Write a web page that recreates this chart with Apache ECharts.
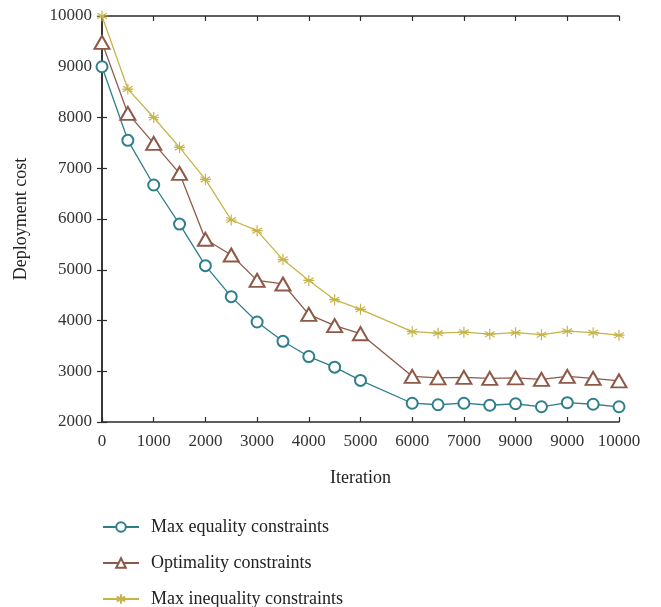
<!DOCTYPE html>
<html><head><meta charset="utf-8">
<script src="https://cdn.jsdelivr.net/npm/echarts@6/dist/echarts.min.js"></script>
<style>html,body{margin:0;padding:0;background:#fff}#c{width:661px;height:607px}</style>
</head><body><div id="c"></div>
<script>
const iterations = [0,500,1000,1500,2000,2500,3000,3500,4000,4500,5000,6000,6500,7000,7500,8000,8500,9000,9500,10000];
const maxEquality = [9000,7550,6670,5900,5080,4470,3970,3590,3290,3080,2820,2370,2340,2370,2330,2360,2300,2380,2350,2300];
const optimality = [9480,8080,7490,6900,5600,5290,4790,4720,4120,3900,3740,2900,2870,2880,2860,2870,2840,2900,2860,2810];
const maxInequality = [10000,8560,8000,7410,6780,5980,5770,5200,4790,4410,4220,3780,3750,3770,3730,3760,3720,3790,3760,3710];
const xTickLabels = ["0","1000","2000","3000","4000","5000","6000","7000","9000","9000","10000"];
const yTickLabels = ["2000","3000","4000","5000","6000","7000","8000","9000","10000"];
const seriesNames = ["Max equality constraints","Optimality constraints","Max inequality constraints"];

const FONT = '"Liberation Serif", "DejaVu Serif", serif';
const AX = '#2b2b2b';
const colors = ['#2f7f8b', '#8e5a48', '#c6b448'];
const star = 'path://M0,-1L0,1M-0.87,-0.5L0.87,0.5M-0.87,0.5L0.87,-0.5M-1,0L1,0';

function pairs(vals){ return iterations.map((x,i)=>[x, vals[i]]); }

const chart = echarts.init(document.getElementById('c'), null, {renderer:'canvas'});
const baseAxisLine = {show:true, lineStyle:{color:AX, width:1.5}};
const legendTops = [513, 549, 585];
chart.setOption({
  animation:false,
  backgroundColor:'#fff',
  grid:{left:102, right:42, top:16, bottom:185, containLabel:false},
  xAxis:[{
    type:'value', min:0, max:10000, interval:1000,
    name:'Iteration', nameLocation:'middle', nameGap:47,
    nameTextStyle:{fontFamily:FONT, fontSize:18, color:'#222'},
    axisLine:baseAxisLine,
    axisTick:{show:true, inside:true, length:5, lineStyle:{color:AX, width:1.2}},
    axisLabel:{fontFamily:FONT, fontSize:17, color:'#333', margin:11,
      formatter:v=>xTickLabels[Math.round(v/1000)]},
    splitLine:{show:false}
  },{
    type:'value', min:0, max:10000, interval:1000, position:'top',
    axisLine:baseAxisLine,
    axisTick:{show:true, inside:true, length:5, lineStyle:{color:AX, width:1.2}},
    axisLabel:{show:false}, splitLine:{show:false}
  }],
  yAxis:[{
    type:'value', min:2000, max:10000, interval:1000,
    name:'Deployment cost', nameLocation:'middle', nameGap:72, nameRotate:90,
    nameTextStyle:{fontFamily:FONT, fontSize:18, color:'#222'},
    axisLine:baseAxisLine,
    axisTick:{show:true, inside:true, length:5, lineStyle:{color:AX, width:1.2}},
    axisLabel:{fontFamily:FONT, fontSize:17, color:'#333', margin:10,
      formatter:v=>yTickLabels[Math.round((v-2000)/1000)]},
    splitLine:{show:false}
  },{
    type:'value', min:2000, max:10000, interval:1000, position:'right',
    axisLine:baseAxisLine,
    axisTick:{show:true, inside:true, length:5, lineStyle:{color:AX, width:1.2}},
    axisLabel:{show:false}, splitLine:{show:false}
  }],
  legend: seriesNames.map((n,i)=>({
    orient:'vertical', left:97, top:legendTops[i], itemWidth:36, itemHeight:12,
    data:[n],
    textStyle:{fontFamily:FONT, fontSize:18, color:'#222', padding:[0,0,0,7]}
  })),
  series:[
    {name:seriesNames[0], type:'line', data:pairs(maxEquality),
     symbol:'emptyCircle', symbolSize:11, lineStyle:{width:1.3, color:colors[0]},
     itemStyle:{color:colors[0], borderColor:colors[0], borderWidth:1.1}},
    {name:seriesNames[1], type:'line', data:pairs(optimality),
     symbol:'emptyTriangle', symbolSize:[15,13], lineStyle:{width:1.3, color:colors[1]},
     itemStyle:{color:colors[1], borderColor:colors[1], borderWidth:1.1}},
    {name:seriesNames[2], type:'line', data:pairs(maxInequality),
     symbol:star, symbolSize:11, lineStyle:{width:1.3, color:colors[2]},
     itemStyle:{color:colors[2], borderColor:colors[2], borderWidth:1.2}}
  ]
});
</script></body></html>
